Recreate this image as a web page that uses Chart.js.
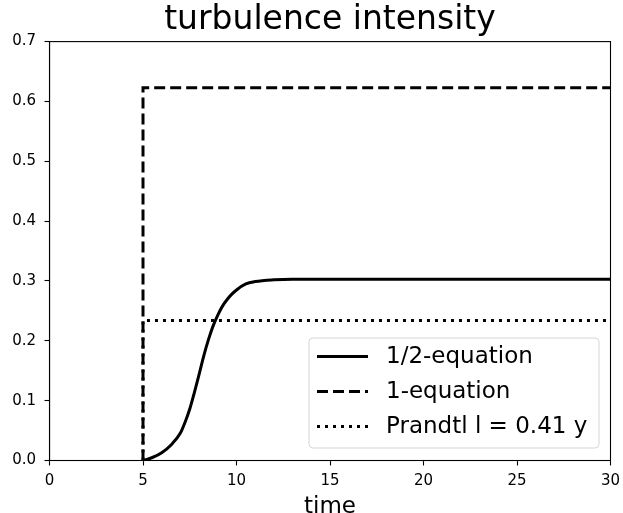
<!DOCTYPE html>
<html>
<head>
<meta charset="utf-8">
<script src="https://cdn.jsdelivr.net/npm/chart.js@4/dist/chart.umd.min.js"></script>
<style>
    body { margin: 0; background: #fff; }
    #wrap { width: 623px; height: 513px; }
</style>
</head>
<body>
<div id="wrap"><canvas id="grafico" width="623" height="513"></canvas></div>
<script>
// valores
const tempoMeia = [5, 5.5, 6, 6.5, 7, 7.25, 7.5, 7.75, 8, 8.25, 8.5, 8.75, 9, 9.25, 9.5, 9.75, 10, 10.5, 11, 12, 13, 30]
const valorMeia = [0, 0.005, 0.013, 0.026, 0.046, 0.064, 0.086, 0.114, 0.144, 0.175, 0.202, 0.225, 0.243, 0.258, 0.269, 0.278, 0.285, 0.295, 0.299, 0.302, 0.303, 0.303]

const tempoUma = [5, 5, 30]
const valorUma = [0, 0.623, 0.623]

const tempoPrandtl = [5, 5, 30]
const valorPrandtl = [0, 0.234, 0.234]

const ticksX = [0, 5, 10, 15, 20, 25, 30]
const ticksY = [0, 0.1, 0.2, 0.3, 0.4, 0.5, 0.6, 0.7]

const nomes = ['1/2-equation', '1-equation', 'Prandtl l = 0.41 y']
const tracos = [[], [11, 5], [3, 5]]

function pontos(xs, ys) {
    return xs.map((x, i) => ({ x: x, y: ys[i] }))
}

Chart.defaults.font.family = 'DejaVu Sans'
Chart.defaults.color = '#000'

// moldura em volta da área do gráfico
const moldura = {
    id: 'moldura',
    afterDatasetsDraw(chart) {
        const a = chart.chartArea
        const ctx = chart.ctx
        ctx.save()
        ctx.strokeStyle = '#000'
        ctx.lineWidth = 1.1
        ctx.strokeRect(a.left, a.top, a.right - a.left, a.bottom - a.top)
        ctx.restore()
    }
}

// legenda no estilo do matplotlib, canto inferior direito
const legenda = {
    id: 'legenda',
    afterDraw(chart) {
        const a = chart.chartArea
        const ctx = chart.ctx
        const w = 290, h = 110
        const x0 = a.right - 11.5 - w
        const y0 = a.bottom - 12.5 - h
        ctx.save()
        ctx.beginPath()
        ctx.roundRect(x0, y0, w, h, 4)
        ctx.fillStyle = 'rgba(255,255,255,0.8)'
        ctx.fill()
        ctx.strokeStyle = '#d5d5d5'
        ctx.lineWidth = 1
        ctx.stroke()
        ctx.font = '23px "DejaVu Sans"'
        ctx.textBaseline = 'middle'
        ctx.fillStyle = '#000'
        nomes.forEach((nome, i) => {
            const y = y0 + 18.5 + i * 35
            ctx.beginPath()
            ctx.setLineDash(tracos[i])
            ctx.lineCap = 'butt'
            ctx.lineWidth = 3
            ctx.strokeStyle = '#000'
            ctx.moveTo(x0 + 8, y)
            ctx.lineTo(x0 + 59, y)
            ctx.stroke()
            ctx.setLineDash([])
            ctx.fillText(nome, x0 + 77, y + 1)
        })
        ctx.restore()
    }
}

const ctx = document.getElementById('grafico').getContext('2d')

const grafico = new Chart(ctx, {
    type: 'line',
    data: {
        datasets: [{
            label: nomes[0],
            data: pontos(tempoMeia, valorMeia),
            borderColor: '#000',
            borderWidth: 3,
            cubicInterpolationMode: 'monotone',
            pointRadius: 0,
            order: 3
        }, {
            label: nomes[1],
            data: pontos(tempoUma, valorUma),
            borderColor: '#000',
            borderWidth: 3,
            borderDash: tracos[1],
            borderCapStyle: 'butt',
            pointRadius: 0,
            order: 2
        }, {
            label: nomes[2],
            data: pontos(tempoPrandtl, valorPrandtl),
            borderColor: '#000',
            borderWidth: 3,
            borderDash: tracos[2],
            borderCapStyle: 'butt',
            pointRadius: 0,
            order: 1
        }]
    },
    options: {
        responsive: false,
        animation: false,
        devicePixelRatio: 1,
        layout: { padding: { left: 0, right: 12.5, top: 0, bottom: 0 } },
        plugins: {
            legend: { display: false },
            tooltip: { enabled: false },
            title: {
                display: true,
                fullSize: false,
                text: 'turbulence intensity',
                color: '#000',
                font: { size: 33, weight: 'normal', lineHeight: 1.2 },
                padding: { top: 1, bottom: 1 }
            }
        },
        scales: {
            x: {
                type: 'linear',
                min: 0,
                max: 30,
                afterFit(escala) {
                    escala.height = 52.5
                    escala.paddingLeft = 0
                    escala.paddingRight = 0
                },
                afterBuildTicks(escala) { escala.ticks = ticksX.map(v => ({ value: v })) },
                grid: { display: true, drawOnChartArea: false, drawTicks: true, tickLength: 5, color: '#000', tickWidth: 1.1 },
                border: { display: true, color: '#000', width: 1.1 },
                ticks: { padding: 6.5, font: { size: 15 }, color: '#000', maxRotation: 0 },
                title: { display: true, text: 'time', font: { size: 23, lineHeight: 0.56 }, padding: 0, color: '#000' }
            },
            y: {
                min: 0,
                max: 0.7,
                afterFit(escala) {
                    escala.width = 49.5
                    escala.paddingTop = 0
                    escala.paddingBottom = 0
                },
                afterBuildTicks(escala) { escala.ticks = ticksY.map(v => ({ value: v })) },
                grid: { display: true, drawOnChartArea: false, drawTicks: true, tickLength: 5, color: '#000', tickWidth: 1.1 },
                border: { display: true, color: '#000', width: 1.1 },
                ticks: { padding: 8.5, font: { size: 15 }, color: '#000', callback: v => v.toFixed(1) }
            }
        }
    },
    plugins: [moldura, legenda]
});
</script>
</body>
</html>
